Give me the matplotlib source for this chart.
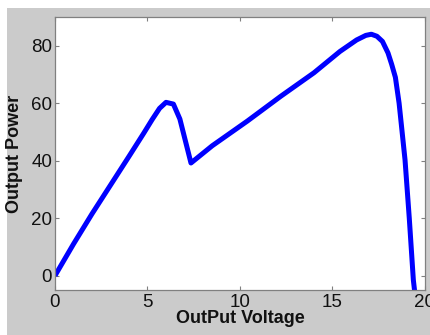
import matplotlib
matplotlib.use("Agg")
import matplotlib.pyplot as plt
from matplotlib.patches import Rectangle

voltage = [0, 1.0, 2.0, 3.0, 4.0, 4.8, 5.25, 5.65, 6.0, 6.4, 6.75, 7.35,
           8.5, 10.4, 12.2, 14.0, 15.4, 16.3, 16.8, 17.1, 17.4, 17.7,
           18.0, 18.2, 18.4, 18.6, 18.75, 18.92, 19.15, 19.37, 19.45]
power = [0, 11.0, 21.5, 31.5, 41.5, 49.6, 54.3, 58.2, 60.3, 59.7, 54.5, 39.2,
         45.2, 53.8, 62.4, 70.6, 78.0, 82.0, 83.6, 84.0, 83.3, 81.5,
         77.5, 73.5, 69.0, 60.0, 50.8, 40.3, 20.0, -1.5, -6.0]
xticks = [0, 5, 10, 15, 20]
yticks = [0, 20, 40, 60, 80]

plt.rcParams['font.family'] = ['Liberation Sans', 'DejaVu Sans']

W, H = 431, 335
fig = plt.figure(figsize=(W / 100, H / 100), dpi=100, facecolor='white')
fig.patches.append(Rectangle((7 / W, 0), 1, (H - 8) / H, transform=fig.transFigure,
                             facecolor='#cbcbcb', edgecolor='none', zorder=-10))

ax = fig.add_axes([55 / W, (H - 290) / H, 370 / W, 273 / H])
ax.set_facecolor('white')
ax.plot(voltage, power, color='#0000ff', linewidth=3.6,
        solid_joinstyle='round', solid_capstyle='butt')
ax.set_xlim(0, 20)
ax.set_ylim(-5, 90)
ax.set_xticks(xticks)
ax.set_yticks(yticks)
ax.tick_params(direction='in', length=3, width=0.8, color='#808080',
               top=True, right=True, labelsize=13.5, labelcolor='#111111',
               pad=2)
ax.tick_params(axis='x', pad=3)
for s in ax.spines.values():
    s.set_color('#808080')
    s.set_linewidth(0.9)

ax.set_xlabel('OutPut Voltage', fontsize=13, fontweight='bold', color='#111111',
              labelpad=-1)
ax.set_ylabel('Output Power', fontsize=13, fontweight='bold', color='#111111',
              labelpad=6)

fig.savefig('out.png', dpi=100, facecolor=fig.get_facecolor())
